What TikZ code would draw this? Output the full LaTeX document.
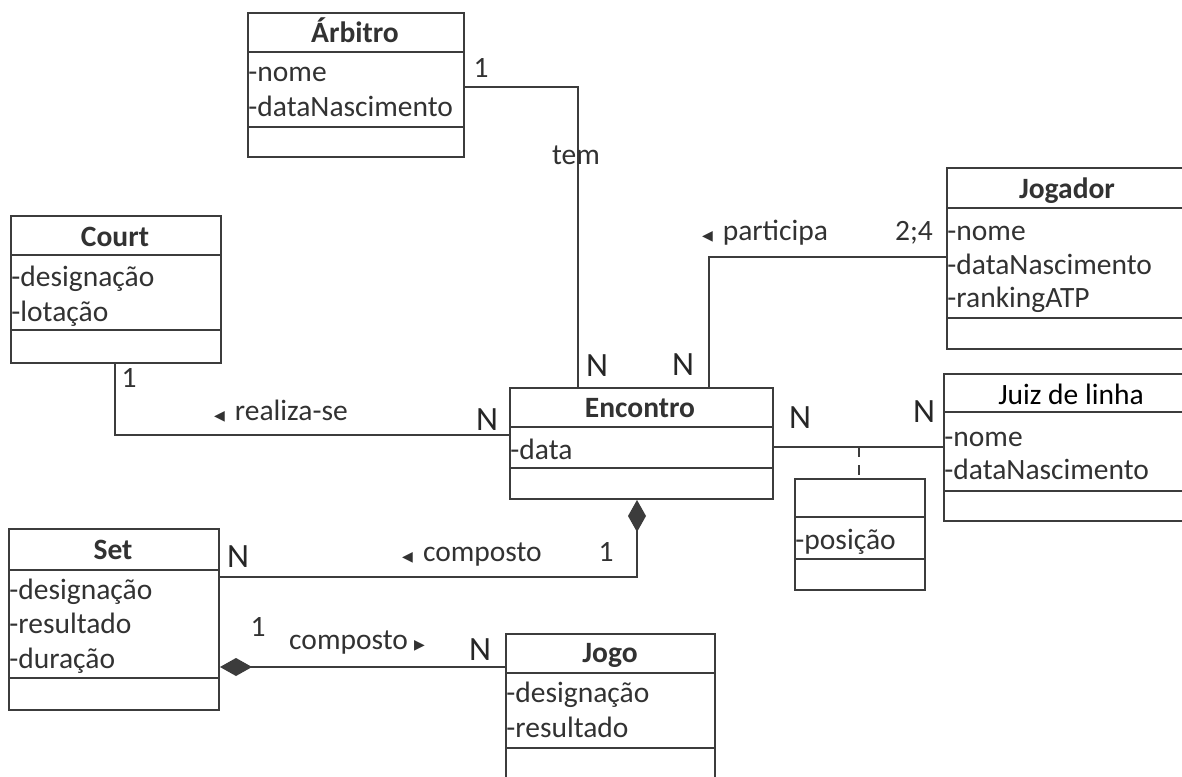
\documentclass[tikz,border=0pt]{standalone}
\usepackage{fontspec}
\setmainfont{Carlito}
\newfontfamily\djv{DejaVu Sans}
\usetikzlibrary{arrows.meta,calc}
\definecolor{ln}{RGB}{60,60,60}
\definecolor{txt}{RGB}{50,50,50}
\tikzset{
  box/.style={draw=ln, line width=1pt, inner sep=0pt, anchor=north west},
  sep/.style={draw=ln, line width=1pt},
  conn/.style={draw=ln, line width=0.9pt},
  ttl/.style={inner sep=0pt, text height=11.5pt, text depth=2.5pt, text=txt, font=\fontsize{14.75pt}{17.5pt}\selectfont\bfseries},
  attr/.style={inner sep=0pt, text height=11.5pt, text depth=2.5pt, anchor=west, text=txt, font=\fontsize{14.75pt}{17.5pt}\selectfont},
  lbl/.style={inner sep=0pt, text height=11.5pt, text depth=2.5pt, text=txt, font=\fontsize{14.75pt}{17.5pt}\selectfont},
  mult/.style={inner sep=0pt, text=black!85, font=\fontsize{17pt}{19pt}\selectfont},
  dia/.style={-{Diamond[length=16pt,width=9pt]}}
}
\newcommand{\tril}{{\djv\fontsize{7pt}{7pt}\selectfont ◀}\hspace{5pt}}
\newcommand{\trir}{\hspace{3pt}{\djv\fontsize{7pt}{7pt}\selectfont ▶}}
\begin{document}
\begin{tikzpicture}[x=0.5pt,y=-0.5pt]
\useasboundingbox (0,0) rectangle (1182,776);
\clip (0,0) rectangle (1182,776);
\fill[white] (0,0) rectangle (1182,776);

% Arbitro
\node[box, minimum width=108pt, minimum height=72pt] (arb) at (247,12) {};
\draw[sep] (arb.west |- 0,52) -- (arb.east |- 0,52);
\draw[sep] (arb.west |- 0,127) -- (arb.east |- 0,127);
\node[ttl] (arbT) at (355,33) {Árbitro};
\node[attr] (arbA) at (248,72) {-nome};
\node[attr] (arbB) at (248,107) {-dataNascimento};

% Court
\node[box, minimum width=105pt, minimum height=73.5pt] (crt) at (10,215) {};
\draw[sep] (crt.west |- 0,255) -- (crt.east |- 0,255);
\draw[sep] (crt.west |- 0,330) -- (crt.east |- 0,330);
\node[ttl] (crtT) at (115,237) {Court};
\node[attr] (crtA) at (11,277) {-designação};
\node[attr] (crtB) at (11,312) {-lotação};

% Jogador
\node[box, minimum width=122pt, minimum height=90.5pt] (jgd) at (946,167) {};
\draw[sep] (jgd.west |- 0,208) -- (jgd.east |- 0,208);
\draw[sep] (jgd.west |- 0,318) -- (jgd.east |- 0,318);
\node[ttl] (jgdT) at (1067,189) {Jogador};
\node[attr] (jgdA) at (947,231) {-nome};
\node[attr] (jgdB) at (947,265) {-dataNascimento};
\node[attr] (jgdC) at (947,298) {-rankingATP};

% Encontro
\node[box, minimum width=131.5pt, minimum height=55.5pt] (enc) at (509,387) {};
\draw[sep] (enc.west |- 0,427) -- (enc.east |- 0,427);
\draw[sep] (enc.west |- 0,468) -- (enc.east |- 0,468);
\node[ttl] (encT) at (640,408) {Encontro};
\node[attr] (encA) at (510,450) {-data};

% Juiz de linha
\node[box, minimum width=123.5pt, minimum height=73.5pt] (jz) at (943,373) {};
\draw[sep] (jz.west |- 0,412) -- (jz.east |- 0,412);
\draw[sep] (jz.west |- 0,491) -- (jz.east |- 0,491);
\node[lbl, text=black] (jzT) at (1071,395) {Juiz de linha};
\node[attr] (jzA) at (944,437) {-nome};
\node[attr] (jzB) at (944,470) {-dataNascimento};

% association class (posicao)
\node[box, minimum width=65pt, minimum height=55.5pt] (pos) at (794,478) {};
\draw[sep] (pos.west |- 0,517) -- (pos.east |- 0,517);
\draw[sep] (pos.west |- 0,559) -- (pos.east |- 0,559);
\node[attr] (posA) at (795,540) {-posição};

% Set
\node[box, minimum width=105pt, minimum height=90.5pt] (set) at (8,528) {};
\draw[sep] (set.west |- 0,570) -- (set.east |- 0,570);
\draw[sep] (set.west |- 0,678) -- (set.east |- 0,678);
\node[ttl] (setT) at (113,550) {Set};
\node[attr] (setA) at (9,590) {-designação};
\node[attr] (setB) at (9,624) {-resultado};
\node[attr] (setC) at (9,659) {-duração};

% Jogo
\node[box, minimum width=104.5pt, minimum height=78.5pt] (jogo) at (505,633) {};
\draw[sep] (jogo.west |- 0,673) -- (jogo.east |- 0,673);
\draw[sep] (jogo.west |- 0,748) -- (jogo.east |- 0,748);
\node[ttl] (jogoT) at (610,653) {Jogo};
\node[attr] (jogoA) at (506,693) {-designação};
\node[attr] (jogoB) at (506,728) {-resultado};

% Arbitro -- Encontro (tem)
\draw[conn] (arb.east |- 0,87) -| (578,0 |- enc.north);
\node[lbl] (l1) at (481,68) {1};
\node[lbl] (ltem) at (576,155) {tem};
\node[mult] (n1) at (597,366) {N};

% Jogador -- Encontro (participa)
\draw[conn] (jgd.west |- 0,257) -| (709,0 |- enc.north);
\node[lbl] (lpart) at (765,231) {\tril participa};
\node[lbl] (l24) at (914,231) {2;4};
\node[mult] (n2) at (683,365) {N};

% Court -- Encontro (realiza-se)
\draw[conn] (115,0 |- crt.south) |- (enc.west |- 0,435);
\node[lbl] (l3) at (129,378) {1};
\node[lbl] (lreal) at (281,411) {\tril realiza-se};
\node[mult] (n3) at (487,420) {N};

% Encontro -- Juiz de linha
\draw[conn] (enc.east |- 0,447) -- (jz.west |- 0,447);
\coordinate (mid) at (859,447);
\draw[conn, dashed, dash pattern=on 5pt off 4pt] (mid) -- (mid |- pos.north);
\node[mult] (n4) at (800,418) {N};
\node[mult] (n5) at (924,412) {N};

% Set -- Encontro (composto)
\draw[conn, dia] (set.east |- 0,577) -| (637,0 |- enc.south);
\node[mult] (n6) at (238,557) {N};
\node[lbl] (lcomp1) at (472,552) {\tril composto};
\node[lbl] (l6) at (606,552) {1};

% Set -- Jogo (composto)
\draw[conn, dia] (jogo.west |- 0,667) -- (set.east |- 0,667);
\node[lbl] (l7) at (258,627) {1};
\node[lbl] (lcomp2) at (357,640) {composto\trir};
\node[mult] (n7) at (480,650) {N};
\end{tikzpicture}
\end{document}
